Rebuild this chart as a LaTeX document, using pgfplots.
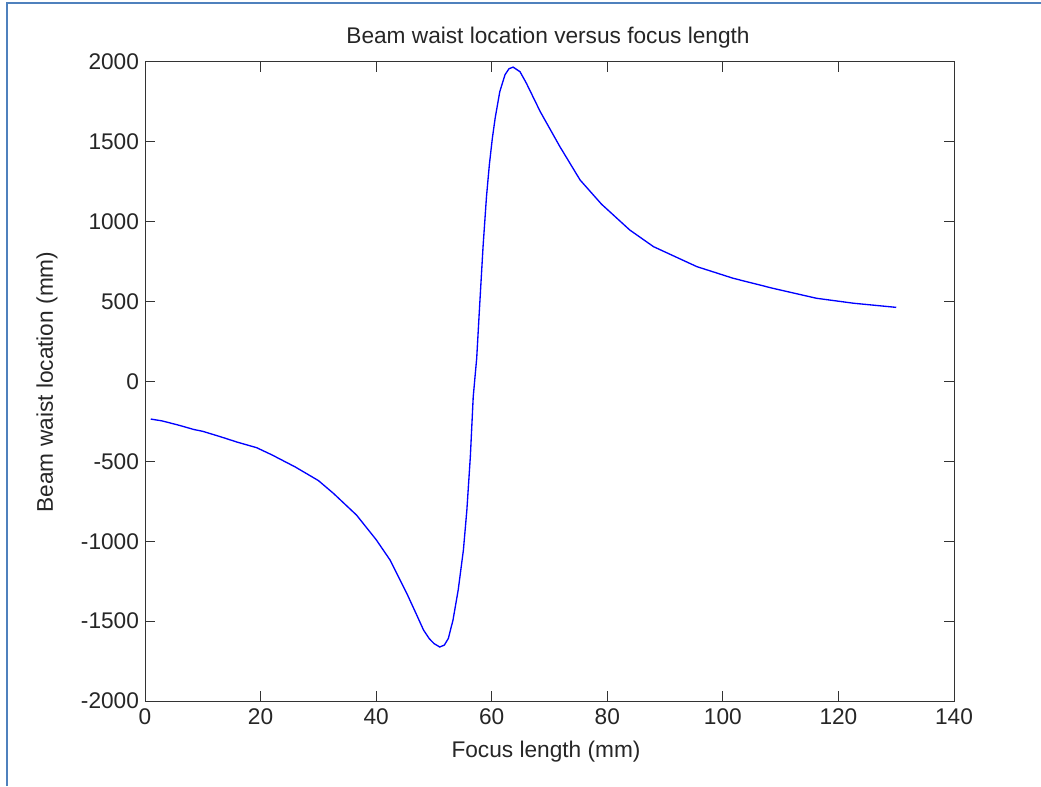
\documentclass[border=0pt]{standalone}
\usepackage{fontspec}
\setmainfont{Liberation Sans}
\usepackage{pgfplots}
\pgfplotsset{compat=1.18}
\pgfplotstableread{
x y
1 -235
3 -247
6 -275
8.4 -300
10 -312
13 -345
16 -380
19.3 -414
22 -460
26 -535
30 -620
32.6 -700
36.6 -836
40 -990
42.4 -1117
45.3 -1326
47 -1460
48.2 -1556
49.2 -1610
50 -1640
51 -1662
51.8 -1650
52.5 -1608
53.3 -1493
54.2 -1305
55.1 -1055
55.7 -804
56.3 -471
56.8 -95
57.4 145
57.9 468
58.5 844
59.1 1160
59.6 1360
60.1 1520
60.6 1650
61.4 1815
62.3 1920
63.0 1958
63.7 1968
64.9 1939
66.0 1867
68.4 1689
71.8 1470
75.3 1261
79 1110
83.9 948
88 844
95.5 719
101.8 646
108.7 583
116.2 521
122.6 490
130 464
}\datatable
\begin{document}
\begin{tikzpicture}[x=0.75pt,y=0.75pt]
\useasboundingbox (0,0) rectangle (1041,786);
\fill[white] (0,0) rectangle (1041,786);
\draw[color={rgb,255:red,79;green,129;blue,189}, line width=1.5pt] (7,0) -- (7,783) -- (1041,783);
\begin{axis}[
  at={(108.75pt,63.75pt)}, anchor=south west,
  scale only axis,
  width=606.75pt, height=479.25pt,
  xmin=0, xmax=140, ymin=-2000, ymax=2000,
  xtick={0,20,40,60,80,100,120,140},
  xticklabels={0,20,40,60,80,100,120,140},
  ytick={-2000,-1500,-1000,-500,0,500,1000,1500,2000},
  yticklabels={-2000,-1500,-1000,-500,0,500,1000,1500,2000},
  tick align=inside,
  major tick length=7.5pt,
  tick style={color=black!80, line width=0.75pt},
  axis line style={color=black!80, line width=0.75pt},
  ticklabel style={font=\fontsize{17}{18}\selectfont, color=black!85},
  xticklabel style={yshift=-2pt},
  yticklabel style={xshift=-1pt},
]
\addplot[color={rgb,255:red,0;green,0;blue,255}, line width=1pt, mark=none] table[x=x,y=y] {\datatable};
\end{axis}
\node[font=\fontsize{17}{18}\selectfont, color=black!85] at (548,748) {Beam waist location versus focus length};
\node[font=\fontsize{17}{18}\selectfont, color=black!85] at (546,34) {Focus length (mm)};
\node[font=\fontsize{17}{18}\selectfont, color=black!85, rotate=90] at (47,404) {Beam waist location (mm)};
\end{tikzpicture}
\end{document}
